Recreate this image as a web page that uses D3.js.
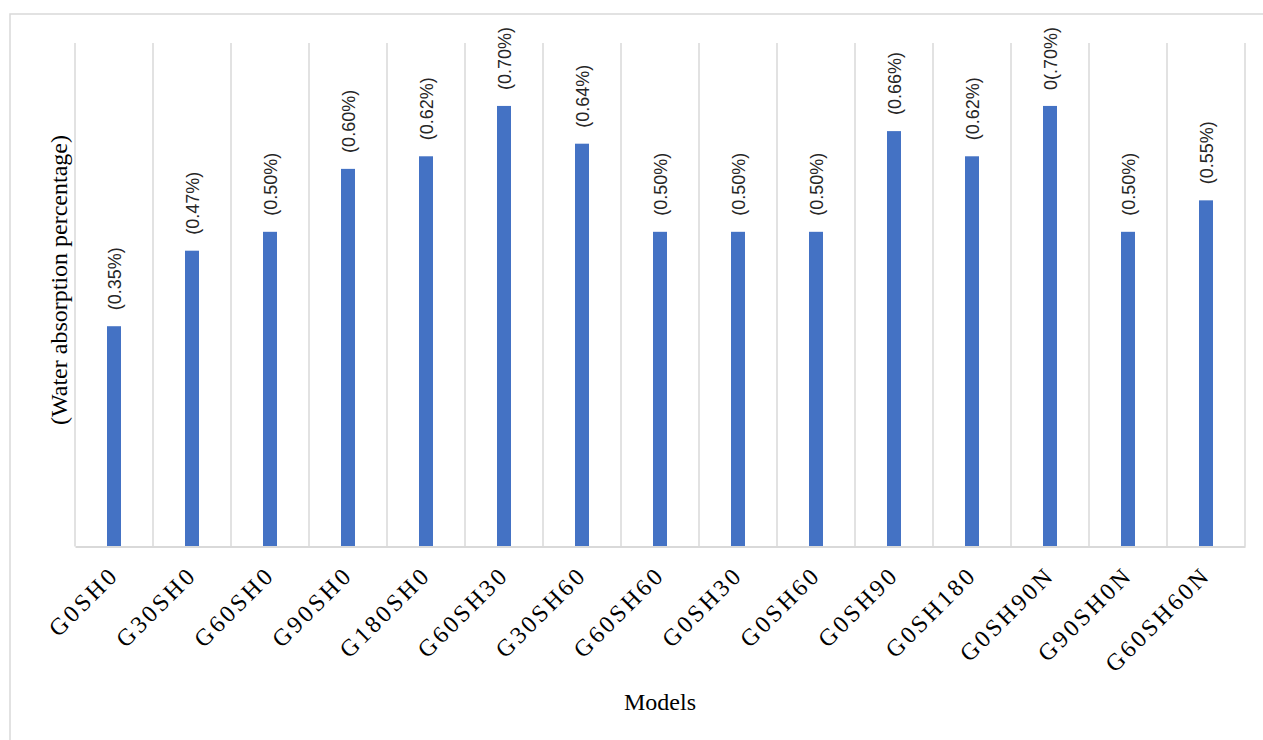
<!DOCTYPE html>
<html>
<head>
<meta charset="utf-8">
<script src="https://cdn.jsdelivr.net/npm/d3@7"></script>
<style>
html,body{margin:0;padding:0;background:#fff;}
svg{display:block;}
</style>
</head>
<body>
<svg id="chart" width="1263" height="740"></svg>
<script>
const categories = ["G0SH0","G30SH0","G60SH0","G90SH0","G180SH0","G60SH30","G30SH60","G60SH60","G0SH30","G0SH60","G0SH90","G0SH180","G0SH90N","G90SH0N","G60SH60N"];
const values = [0.35,0.47,0.50,0.60,0.62,0.70,0.64,0.50,0.50,0.50,0.66,0.62,0.70,0.50,0.55];
const valueLabels = ["(0.35%)","(0.47%)","(0.50%)","(0.60%)","(0.62%)","(0.70%)","(0.64%)","(0.50%)","(0.50%)","(0.50%)","(0.66%)","(0.62%)","0(.70%)","(0.50%)","(0.55%)"];
const yTitle = "(Water absorption percentage)";
const xTitle = "Models";

const svg = d3.select("#chart");
const pLeft = 75, pRight = 1245, pTop = 43, pBottom = 546.5;

svg.append("rect").attr("x",10).attr("y",14).attr("width",1400).attr("height",900)
  .attr("fill","none").attr("stroke","#d9d9d9").attr("stroke-width",1.5);

const x = d3.scaleBand().domain(categories).range([pLeft,pRight]).paddingInner(0).paddingOuter(0);
const y = d3.scaleLinear().domain([0,0.8]).range([pBottom,pTop]);

const bounds = categories.map(c => x(c)).concat([pRight]);
svg.append("g").selectAll("line").data(bounds).join("line")
  .attr("x1",d=>d).attr("x2",d=>d).attr("y1",pTop).attr("y2",pBottom)
  .attr("stroke","#d9d9d9").attr("stroke-width",1.5);

const barW = 14;
svg.append("g").selectAll("rect").data(values).join("rect")
  .attr("x",(d,i)=>x(categories[i])+x.bandwidth()/2-barW/2)
  .attr("width",barW)
  .attr("y",d=>y(d))
  .attr("height",d=>pBottom-y(d))
  .attr("fill","#4472c4");

const xAxis = d3.axisBottom(x).tickSize(0).tickSizeOuter(0).tickPadding(0);
const ax = svg.append("g").attr("transform",`translate(0,${pBottom})`).call(xAxis);
ax.select(".domain").attr("stroke","#d9d9d9").attr("stroke-width",2);
ax.selectAll(".tick text")
  .attr("font-family","'Liberation Serif','Times New Roman',serif")
  .attr("font-size",24)
  .attr("fill","#000")
  .style("letter-spacing","3px")
  .attr("text-anchor","end")
  .attr("dy",0)
  .attr("y",0)
  .attr("transform","translate(6,30) rotate(-45)");

svg.append("g").selectAll("text").data(values).join("text")
  .attr("transform",(d,i)=>`translate(${x(categories[i])+x.bandwidth()/2+7},${y(d)-16}) rotate(-90)`)
  .attr("text-anchor","start")
  .attr("font-family","'Liberation Sans',Arial,sans-serif")
  .attr("font-size",18)
  .attr("fill","#262626")
  .text((d,i)=>valueLabels[i]);

svg.append("text")
  .attr("transform","translate(67,280) rotate(-90)")
  .attr("text-anchor","middle")
  .attr("font-family","'Liberation Serif','Times New Roman',serif")
  .attr("font-size",24).attr("fill","#000")
  .text(yTitle);

svg.append("text")
  .attr("x",660).attr("y",710)
  .attr("text-anchor","middle")
  .attr("font-family","'Liberation Serif','Times New Roman',serif")
  .attr("font-size",24).attr("fill","#000")
  .text(xTitle);
</script>
</body>
</html>
